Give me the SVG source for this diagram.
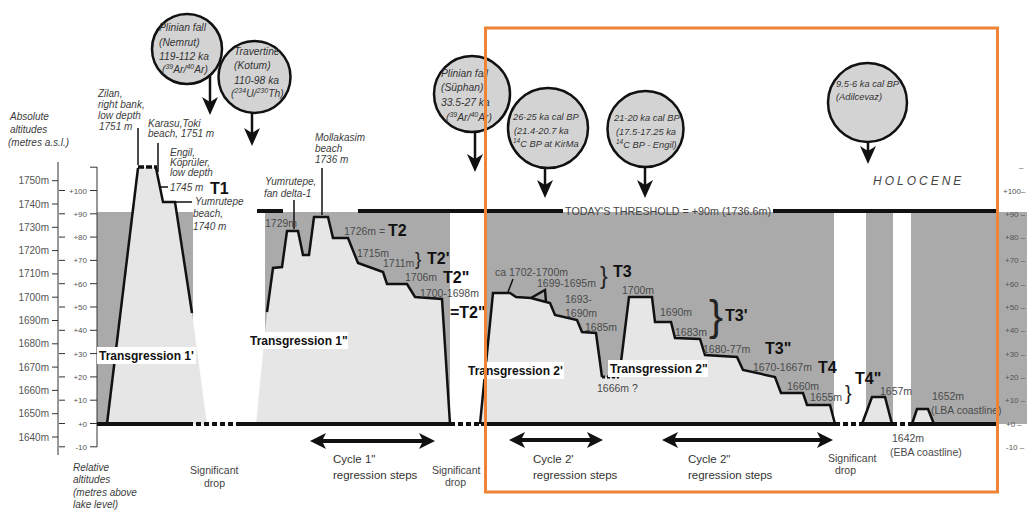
<svg xmlns="http://www.w3.org/2000/svg" width="1027" height="510" viewBox="0 0 1027 510">
<defs>
<style>
.it{font-family:"Liberation Sans",Arial,sans-serif;font-style:italic;font-size:10px;fill:#3c3c3c}
.ci{font-family:"Liberation Sans",Arial,sans-serif;font-style:italic;font-size:10.3px;fill:#333}
.cs{font-family:"Liberation Sans",Arial,sans-serif;font-style:italic;font-size:9.3px;fill:#333}
.num{font-family:"Liberation Sans",Arial,sans-serif;font-size:10.5px;fill:#4a4a4a}
.tb{font-family:"Liberation Sans",Arial,sans-serif;font-weight:bold;font-size:16px;fill:#111}
.tr{font-family:"Liberation Sans",Arial,sans-serif;font-weight:bold;font-size:12px;fill:#111}
.ax{font-family:"Liberation Sans",Arial,sans-serif;font-size:10px;fill:#555}
.rx{font-family:"Liberation Sans",Arial,sans-serif;font-size:8px;fill:#555}
.lb{font-family:"Liberation Sans",Arial,sans-serif;font-size:11.5px;fill:#333}
.sm{font-family:"Liberation Sans",Arial,sans-serif;font-size:10.5px;fill:#444}
.br{font-family:"Liberation Sans",Arial,sans-serif;fill:#222}
.dk{fill:#aaaaaa}
.lt{fill:#e6e6e6}
.ol{fill:none;stroke:#111;stroke-width:2.5;stroke-linejoin:miter}
.ld{stroke:#111;stroke-width:1.5;fill:none}
.tk{stroke:#333;stroke-width:1;fill:none}
.base{stroke:#111;stroke-width:4;fill:none}
.dash{stroke:#111;stroke-width:4;fill:none;stroke-dasharray:5 3}
.circ{fill:#d3d3d3;stroke:#111;stroke-width:2.5}
.ar{stroke:#111;stroke-width:2.5;marker-end:url(#ah)}
.cy{stroke:#111;stroke-width:4;marker-start:url(#dh);marker-end:url(#dh)}
.bg{fill:#fff}
</style>
<marker id="ah" viewBox="0 0 18 16" markerWidth="18" markerHeight="16" refX="11" refY="8" orient="auto" markerUnits="userSpaceOnUse"><path d="M0,0 L18,8 L0,16 L5,8 Z" fill="#111"/></marker>
<marker id="dh" viewBox="0 0 16 16" markerWidth="16" markerHeight="16" refX="10" refY="8" orient="auto-start-reverse" markerUnits="userSpaceOnUse"><path d="M0,0 L16,8 L0,16 L4,8 Z" fill="#111"/></marker>
</defs>
<rect width="1027" height="510" fill="#fff"/>

<g id="background-bands">
<rect class="dk" x="97" y="212" width="96" height="212"/>
<rect class="dk" x="265" y="212" width="185" height="212"/>
<rect class="dk" x="486" y="212" width="348" height="212"/>
<rect class="dk" x="866" y="212" width="27" height="212"/>
<rect class="dk" x="911" y="212" width="116" height="212"/>
</g>

<g id="axes">
<path class="tk" d="M58,162V455 M97,167V447"/>
<path class="tk" d="M52,437H58 M52,413.7H58 M52,390.4H58 M52,367.1H58 M52,343.8H58 M52,320.5H58 M52,297.2H58 M52,273.9H58 M52,250.6H58 M52,227.3H58 M52,204H58 M52,180.7H58"/>
<g class="ax" text-anchor="end">
<text x="49" y="440.5">1640m</text><text x="49" y="417.2">1650m</text><text x="49" y="393.9">1660m</text><text x="49" y="370.6">1670m</text><text x="49" y="347.3">1680m</text><text x="49" y="324">1690m</text><text x="49" y="300.7">1700m</text><text x="49" y="277.4">1710m</text><text x="49" y="254.1">1720m</text><text x="49" y="230.8">1730m</text><text x="49" y="207.5">1740m</text><text x="49" y="184.2">1750m</text>
</g>
<path class="tk" d="M59,446.8H65 M90,446.8H97 M59,423.5H65 M90,423.5H97 M59,400.2H65 M90,400.2H97 M59,376.9H65 M90,376.9H97 M59,353.6H65 M90,353.6H97 M59,330.3H65 M90,330.3H97 M59,307H65 M90,307H97 M59,283.7H65 M90,283.7H97 M59,260.4H65 M90,260.4H97 M59,237.1H65 M90,237.1H97 M59,213.8H65 M90,213.8H97 M59,190.5H65 M90,190.5H97 M90,167.2H97"/>
<g class="rx" text-anchor="end">
<text x="87" y="449.8">-10</text><text x="87" y="426.5">+0</text><text x="87" y="403.2">+10</text><text x="87" y="379.9">+20</text><text x="87" y="356.6">+30</text><text x="87" y="333.3">+40</text><text x="87" y="310">+50</text><text x="87" y="286.7">+60</text><text x="87" y="263.4">+70</text><text x="87" y="240.1">+80</text><text x="87" y="216.8">+90</text><text x="87" y="193.5">+100</text>
</g>
<g class="rx">
<text x="1019" y="170">–</text>
<text x="1003" y="193.5">+100–</text><text x="1005" y="216.8">+90 –</text><text x="1005" y="240.1">+80 –</text><text x="1005" y="263.4">+70 –</text><text x="1005" y="286.7">+60 –</text><text x="1005" y="310">+50 –</text><text x="1005" y="333.3">+40 –</text><text x="1005" y="356.6">+30 –</text><text x="1005" y="379.9">+20 –</text><text x="1005" y="403.2">+10 –</text><text x="1006" y="426.5">+0 –</text><text x="1006" y="449.8">-10 –</text>
</g>
<g class="it">
<text x="10" y="120">Absolute</text><text x="10" y="133">altitudes</text><text x="8" y="146">(metres a.s.l.)</text>
<text x="73" y="471">Relative</text><text x="73" y="483">altitudes</text><text x="73" y="496">(metres above</text><text x="73" y="508">lake level)</text>
</g>
</g>

<g id="transgression-1a">
<polygon class="lt" points="107,424 138,167 156,167 163,202 175,202 192,313 207,424"/>
<polyline class="ol" points="107,424 138,168"/>
<polyline class="ol" points="156,168 163,202 175,202 192,313"/>
<path d="M138,167H157" stroke="#111" stroke-width="3.5" stroke-dasharray="6 2"/>
</g>

<g id="transgression-1b">
<polygon class="lt" points="256,424 267,312 273,268 282,267 287,231 298,231 303,255 309,255 314,217 328,217 333,238 348,238 358,263 383,272 387,284 407,284 415,297 442,299 450,424"/>
<polyline class="ol" points="267,312 273,268 282,267 287,231 298,231 303,255 309,255 314,217 328,217 333,238 348,238 358,263 383,272 387,284 407,284 415,297 442,299 450,424"/>
</g>

<g id="transgression-2">
<polygon class="lt" points="480,424 493,293 510,293 516,297 531,298 546,302 550,303 555,315 577,320 582,332 596,333 602,377 619,378 629,297 652,297 655,322 671,322 675,338 700,339 705,355 737,357 743,370 775,377 781,393 803,393 807,405 830,405 835,424"/>
<polyline class="ol" points="480,424 493,293 510,293 516,297 531,298 546,302 550,303 555,315 577,320 582,332 596,333 602,377"/>
<polyline class="ol" points="531,298 545,290 546,302"/>
<path d="M602,377H619" stroke="#111" stroke-width="3" stroke-dasharray="3 2"/>
<polyline class="ol" points="620,370 629,297 652,297 655,322 671,322 675,338 700,339 705,355 737,357 743,370 775,377 781,393 803,393 807,405 830,405 835,424"/>
</g>

<g id="holocene-bumps">
<polygon class="lt" points="862,424 872,397 885,397 892,424"/>
<polyline class="ol" points="862,424 872,397 885,397 892,424"/>
<polygon class="lt" points="912,424 917,409 928,409 934,424"/>
<polyline class="ol" points="912,424 917,409 928,409 934,424"/>
</g>

<g id="lake-level">
<path class="base" d="M97,424H188 M239,424H450 M481,424H835 M862,424H892 M912,424H997"/>
<path class="dash" d="M188,424H239 M450,424H481 M835,424H862 M892,424H912"/>
</g>

<g id="threshold">
<path class="base" d="M257,211H283 M358,211H563 M773,211H997" stroke-width="3.5"/>
<text class="sm" x="565" y="215" textLength="206" lengthAdjust="spacingAndGlyphs">TODAY'S THRESHOLD = +90m (1736.6m)</text>
</g>

<g id="connectors">
<path class="ld" d="M138,128V165 M158,143V172 M160,187H168 M175,202H192 M294,200V229 M322,168V215 M513,279L508,292"/>
<line class="ar" x1="210" y1="76" x2="210" y2="108"/>
<line class="ar" x1="252" y1="113" x2="252" y2="139"/>
<line class="ar" x1="475" y1="132" x2="475" y2="165"/>
<line class="ar" x1="545" y1="168" x2="545" y2="191"/>
<line class="ar" x1="645" y1="167" x2="645" y2="191"/>
<line class="ar" x1="868" y1="142" x2="868" y2="157"/>
<line class="cy" x1="316" y1="441" x2="429" y2="441"/>
<line class="cy" x1="515" y1="440" x2="597" y2="440"/>
<line class="cy" x1="668" y1="440" x2="827" y2="440"/>
</g>

<g id="labels-t1">
<g class="it">
<text x="98" y="97">Zilan,</text><text x="98" y="108">right bank,</text><text x="98" y="119">low depth</text><text x="99" y="130">1751 m</text>
<text x="148" y="127">Karasu,Toki</text><text x="148" y="137">beach, 1751 m</text>
<text x="170" y="156">Engil,</text><text x="170" y="166">Köprüler,</text><text x="170" y="176">low depth</text><text x="170" y="191">1745 m</text>
<text x="195" y="205">Yumrutepe</text><text x="193" y="217">beach,</text><text x="193" y="230">1740 m</text>
<text x="265" y="185">Yumrutepe,</text><text x="264" y="197">fan delta-1</text>
<text x="315" y="141">Mollakasim</text><text x="315" y="152">beach</text><text x="315" y="163">1736 m</text>
</g>
<text class="tb" x="210" y="194">T1</text>
</g>

<g id="labels-t2">
<g class="num">
<text x="265" y="227">1729m</text>
<text x="344" y="235">1726m =</text>
<text x="357" y="257">1715m</text>
<text x="383" y="267">1711m</text>
<text x="405" y="281">1706m</text>
<text x="420" y="297">1700-1698m</text>
</g>
<text class="br" x="415" y="265" font-size="19">}</text>
<g class="tb">
<text x="388" y="236">T2</text>
<text x="427" y="264">T2'</text>
<text x="443" y="283">T2"</text>
<text x="450" y="318">=T2"</text>
</g>
</g>

<g id="labels-t3-t4">
<g class="num">
<text x="495" y="276">ca 1702-1700m</text>
<text x="537" y="287">1699-1695m</text>
<text x="565" y="303">1693-</text><text x="565" y="317">1690m</text>
<text x="585" y="331">1685m</text>
<text x="597" y="392">1666m ?</text>
<text x="622" y="294">1700m</text>
<text x="660" y="316">1690m</text>
<text x="675" y="336">1683m</text>
<text x="703" y="353">1680-77m</text>
<text x="753" y="371">1670-1667m</text>
<text x="787" y="390">1660m</text>
<text x="810" y="401">1655m</text>
<text x="880" y="395">1657m</text>
<text x="932" y="400">1652m</text>
<text x="931" y="414">(LBA coastline)</text>
<text x="892" y="442">1642m</text>
<text x="890" y="456">(EBA coastline)</text>
</g>
<text class="br" x="600" y="284" font-size="23">}</text>
<text class="br" x="709" y="330" font-size="42" font-weight="300">}</text>
<text class="br" x="845" y="400" font-size="20">}</text>
<g class="tb">
<text x="613" y="277">T3</text>
<text x="725" y="321">T3'</text>
<text x="765" y="354">T3"</text>
<text x="818" y="373">T4</text>
<text x="855" y="384">T4"</text>
</g>
</g>

<g id="transgression-labels">
<rect class="bg" x="97" y="347" width="99" height="17"/>
<text class="tr" x="99" y="360">Transgression  1'</text>
<rect class="bg" x="249" y="332" width="99" height="17"/>
<text class="tr" x="250" y="345">Transgression 1"</text>
<rect class="bg" x="467" y="362" width="97" height="17"/>
<text class="tr" x="468" y="375">Transgression 2'</text>
<rect class="bg" x="608" y="360" width="100" height="17"/>
<text class="tr" x="610" y="373">Transgression 2"</text>
</g>

<g id="bottom-labels">
<g class="sm">
<text x="190" y="474">Significant</text><text x="204" y="487">drop</text>
<text x="432" y="474">Significant</text><text x="445" y="486">drop</text>
<text x="828" y="462">Significant</text><text x="835" y="474">drop</text>
</g>
<g class="lb">
<text x="333" y="463">Cycle 1"</text><text x="333" y="479">regression steps</text>
<text x="533" y="463">Cycle 2'</text><text x="533" y="479">regression steps</text>
<text x="688" y="463">Cycle 2"</text><text x="688" y="479">regression steps</text>
</g>
</g>

<g id="circle-nemrut">
<circle class="circ" cx="187" cy="49" r="35"/>
<g class="ci">
<text x="159" y="31">Plinian fall</text>
<text x="159" y="46">(Nemrut)</text>
<text x="159" y="60">119-112 ka</text>
<text x="162" y="73">(<tspan font-size="7" dy="-4">39</tspan><tspan dy="4">Ar/</tspan><tspan font-size="7" dy="-4">40</tspan><tspan dy="4">Ar)</tspan></text>
</g>
</g>

<g id="circle-kotum">
<circle class="circ" cx="254.5" cy="77" r="36"/>
<g class="ci">
<text x="234" y="55">Travertine</text>
<text x="234" y="69">(Kotum)</text>
<text x="234" y="84">110-98 ka</text>
<text x="231" y="97">(<tspan font-size="7" dy="-4">234</tspan><tspan dy="4">U/</tspan><tspan font-size="7" dy="-4">230</tspan><tspan dy="4">Th)</tspan></text>
</g>
</g>

<g id="circle-suphan">
<circle class="circ" cx="472" cy="94" r="38"/>
<g class="ci">
<text x="441" y="77">Plinian fall</text>
<text x="441" y="91">(Süphan)</text>
<text x="441" y="106">33.5-27  ka</text>
<text x="446" y="121">(<tspan font-size="7" dy="-4">39</tspan><tspan dy="4">Ar/</tspan><tspan font-size="7" dy="-4">40</tspan><tspan dy="4">Ar)</tspan></text>
</g>
</g>

<g id="circle-kirma">
<circle class="circ" cx="548" cy="128" r="40"/>
<g class="cs">
<text x="513" y="120">26-25 ka cal BP</text>
<text x="514" y="134">(21.4-20.7 ka</text>
<text x="513" y="147"><tspan font-size="6.5" dy="-4">14</tspan><tspan dy="4">C BP at KirMa</tspan></text>
</g>
</g>

<g id="circle-engil">
<circle class="circ" cx="645.5" cy="129" r="38"/>
<g class="cs">
<text x="614" y="121">21-20 ka cal BP</text>
<text x="616" y="135">(17.5-17.25 ka</text>
<text x="616" y="148"><tspan font-size="6.5" dy="-4">14</tspan><tspan dy="4">C BP - Engil)</tspan></text>
</g>
</g>

<g id="circle-adilcevaz">
<circle class="circ" cx="867.5" cy="102.5" r="39.5"/>
<g class="cs">
<text x="836" y="87">9.5-6 ka cal BP</text>
<text x="836" y="100">(Adilcevaz)</text>
</g>
</g>

<text x="873" y="185" font-family="Liberation Sans, Arial, sans-serif" font-style="italic" font-size="12" letter-spacing="3" fill="#444">HOLOCENE</text>

<rect id="highlight-box" x="485.5" y="28" width="512" height="464" fill="none" stroke="#EE8434" stroke-width="3"/>
</svg>
